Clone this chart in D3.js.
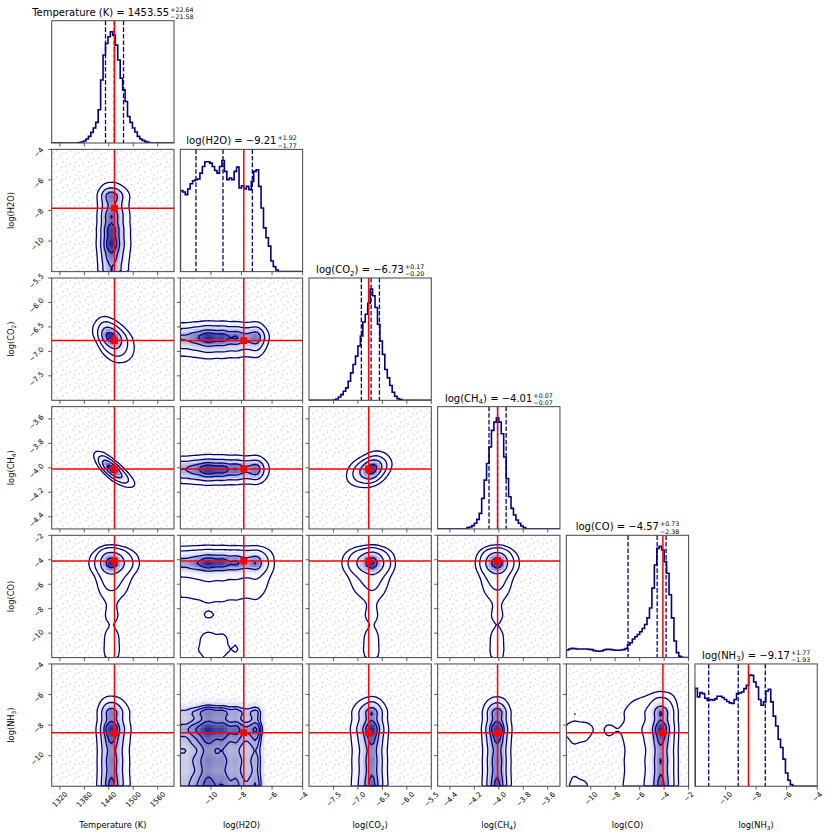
<!DOCTYPE html>
<meta charset="utf-8">
<html>
<script src="https://d3js.org/d3.v7.min.js"></script>
<style>
  body { margin: 0; background: #fff; }
  text { font-family: "DejaVu Sans", sans-serif; fill: #000; }
</style>
<div id="corner"></div>
<script>

// ---- data ----
var labels = ["Temperature (K)", "log(H2O)", "log(CO_2)", "log(CH_4)", "log(CO)", "log(NH_3)"];
var ranges = [[1300, 1600], [-12, -4], [-8, -5.5], [-4.5, -3.5], [-12, -2], [-12, -4]];
var tickValues = [
  [1320, 1380, 1440, 1500, 1560],
  [-10, -8, -6, -4],
  [-7.5, -7.0, -6.5, -6.0, -5.5],
  [-4.4, -4.2, -4.0, -3.8, -3.6],
  [-10, -8, -6, -4, -2],
  [-10, -8, -6, -4]
];
var medians  = [1453.55, -9.21, -6.73, -4.01, -4.57, -9.17];
var errPlus  = [22.64, 1.92, 0.17, 0.07, 0.73, 1.77];
var errMinus = [21.58, 1.77, 0.20, 0.07, 2.38, 1.93];
var truths   = [1454, -7.85, -6.78, -4.01, -4.1, -8.5];

// 50-bin marginal histograms (relative counts)
var histTemp = [0,0,0,0,0,0,0,0,0,0,0,1,3,6,12,20,32,45,62,100,190,265,300,320,335,325,295,250,195,160,125,80,62,45,33,20,12,8,4,2,0,0,0,0,0,0,0,0,0,0];
var histH2O  = [244,240,232,249,265,274,277,279,297,317,331,331,327,317,305,297,317,335,302,277,282,277,302,315,252,259,249,257,247,272,302,307,257,192,132,102,77,32,15,5,0,0,0,0,0,0,0,0,0,0];
var histCO2  = [0,0,0,0,0,0,0,0,0,0,1,4,10,17,27,37,57,82,107,132,162,192,234,257,290,332,312,277,227,177,137,92,67,44,24,12,5,2,0,0,0,0,0,0,0,0,0,0,0,0];
var histCH4  = [0,0,0,0,0,0,0,0,0,0,0,0,4,6,10,17,29,47,92,147,197,247,297,322,335,322,287,217,152,97,62,42,27,17,9,4,0,0,0,0,0,0,0,0,0,0,0,0,0,0];
var histCO   = [23,26,28,27,26,26,26,26,26,25,24,21,20,19,20,23,25,25,24,23,22,22,23,24,27,38,45,56,63,70,78,88,100,120,150,210,280,330,336,325,290,255,190,120,50,15,4,1,0,0];
var histNH3  = [296,270,283,280,266,259,262,260,264,272,272,268,262,256,252,250,262,280,282,285,295,305,336,335,315,300,262,245,255,288,293,255,212,182,142,117,82,40,18,5,0,0,0,0,0,0,0,0,0,0];
var hists = [histTemp, histH2O, histCO2, histCH4, histCO, histNH3];

// pairs that are visibly correlated in the 2D panels: [x param, y param, rho]
var correlations = [[0, 2, -0.45], [0, 3, -0.9], [2, 3, 0.35]];

// ---- layout ----
var width = 831, height = 838;
var nb = 50;
var L0 = 51.7, T0 = 20.7, pitch = 128.65, size = 122.3;
var navy = "#000080", red = "#ff0000";

var svg = d3.select("#corner").append("svg")
    .attr("width", width)
    .attr("height", height);
var defs = svg.append("defs");

// faint sample points texture
var pat = defs.append("pattern")
    .attr("id", "dots")
    .attr("patternUnits", "userSpaceOnUse")
    .attr("width", 13).attr("height", 13);
[[2, 3], [8, 1], [5, 8], [11, 6], [10, 11], [1, 10]].forEach(function(p) {
  pat.append("circle").attr("cx", p[0]).attr("cy", p[1]).attr("r", 0.9)
     .attr("fill", "#2a2aa0").attr("opacity", 0.16);
});

function xScale(k, col) {
  var x0 = L0 + col * pitch;
  return d3.scaleLinear().domain(ranges[k]).range([x0, x0 + size]);
}
function yScale(k, row) {
  var y0 = T0 + row * pitch;
  return d3.scaleLinear().domain(ranges[k]).range([y0 + size, y0]);
}

// text with "_x" subscripts
function addRich(sel, str, fs) {
  var parts = str.split("_");
  sel.append("tspan").text(parts[0]);
  parts.slice(1).forEach(function(p) {
    sel.append("tspan").attr("dy", fs * 0.25).attr("font-size", fs * 0.7).text(p[0]);
    sel.append("tspan").attr("dy", -fs * 0.25).text(p.slice(1));
  });
}

// normal cdf / inverse for the copula used on correlated pairs
function erf(x) {
  var s = x < 0 ? -1 : 1; x = Math.abs(x);
  var t = 1 / (1 + 0.3275911 * x);
  var y = 1 - (((((1.061405429 * t - 1.453152027) * t) + 1.421413741) * t - 0.284496736) * t + 0.254829592) * t * Math.exp(-x * x);
  return s * y;
}
function probit(p) {
  var lo = -8, hi = 8;
  for (var i = 0; i < 50; i++) {
    var m = (lo + hi) / 2;
    if (0.5 * (1 + erf(m / Math.SQRT2)) < p) lo = m; else hi = m;
  }
  return (lo + hi) / 2;
}
var zScores = hists.map(function(h) {
  var tot = d3.sum(h), c = 0;
  return h.map(function(v) {
    var p = (c + v / 2) / tot; c += v;
    return probit(Math.min(Math.max(p, 1e-6), 1 - 1e-6));
  });
});

function density(kx, ky) {
  var rho = 0;
  correlations.forEach(function(c) {
    if ((c[0] == kx && c[1] == ky) || (c[0] == ky && c[1] == kx)) rho = c[2];
  });
  var hx = hists[kx], hy = hists[ky], vals = new Float64Array(nb * nb);
  for (var j = 0; j < nb; j++) for (var i = 0; i < nb; i++) {
    var v = hx[i] * hy[j];
    if (rho && v > 0) {
      var a = zScores[kx][i], b = zScores[ky][j];
      v *= Math.exp(-(rho * rho * (a * a + b * b) - 2 * rho * a * b) / (2 * (1 - rho * rho))) / Math.sqrt(1 - rho * rho);
    }
    vals[j * nb + i] = v;
  }
  if (d3.blur2) d3.blur2({data: vals, width: nb, height: nb}, 0.62);
  return vals;
}

// corner-style levels: 0.5, 1, 1.5, 2 sigma
function levelsFor(vals) {
  var flat = Array.from(vals).sort(function(a, b) { return b - a; });
  var tot = d3.sum(flat);
  var sm = Array.from(d3.cumsum(flat), function(v) { return v / tot; });
  var V = [0.5, 1, 1.5, 2].map(function(s) {
    var f = 1 - Math.exp(-0.5 * s * s);
    var idx = d3.bisectRight(sm, f) - 1;
    return flat[Math.max(idx, 0)];
  });
  return V.sort(d3.ascending);
}

function clipFor(r, c) {
  var id = "clip" + r + "_" + c;
  defs.append("clipPath").attr("id", id).append("rect")
      .attr("x", L0 + c * pitch).attr("y", T0 + r * pitch)
      .attr("width", size).attr("height", size);
  return svg.append("g").attr("clip-path", "url(#" + id + ")");
}

function draw2d(r, c) {
  var xs = xScale(c, c), ys = yScale(r, r);
  var g = clipFor(r, c);
  g.append("rect")
      .attr("x", L0 + c * pitch).attr("y", T0 + r * pitch)
      .attr("width", size).attr("height", size)
      .attr("fill", "url(#dots)");

  var vals = density(c, r);
  var V = levelsFor(vals);
  var xlo = ranges[c][0], ylo = ranges[r][0];
  var xw = (ranges[c][1] - xlo) / nb, yw = (ranges[r][1] - ylo) / nb;
  var path = d3.geoPath(d3.geoTransform({
    point: function(x, y) { this.stream.point(xs(xlo + x * xw), ys(ylo + y * yw)); }
  }));
  var conts = d3.contours().size([nb, nb]).thresholds(V)(vals);

  // white base under the lowest contour
  g.append("path").attr("d", path(conts[0])).attr("fill", "#fff");

  // density shading (pcolor)
  var vmax = d3.max(vals), cells = [];
  for (var j = 0; j < nb; j++) for (var i = 0; i < nb; i++) {
    var d = Math.pow(vals[j * nb + i] / vmax, 1.5);
    if (d > 0.015) cells.push({i: i, j: j, d: d});
  }
  g.selectAll("rect.cell").data(cells).join("rect")
      .attr("class", "cell")
      .attr("shape-rendering", "crispEdges")
      .attr("x", function(d) { return Math.round(xs(xlo + d.i * xw)); })
      .attr("y", function(d) { return Math.round(ys(ylo + (d.j + 1) * yw)); })
      .attr("width", function(d) { return Math.round(xs(xlo + (d.i + 1) * xw)) - Math.round(xs(xlo + d.i * xw)); })
      .attr("height", function(d) { return Math.round(ys(ylo + d.j * yw)) - Math.round(ys(ylo + (d.j + 1) * yw)); })
      .attr("fill", function(d) { var t = 1 - d.d; return d3.rgb(255 * t, 255 * t, 128 + 127 * t); })
      .attr("fill-opacity", function(d) { return 0.85 * d.d; });

  g.selectAll("path.contour").data(conts).join("path")
      .attr("class", "contour")
      .attr("d", path)
      .attr("fill", "none")
      .attr("stroke", navy)
      .attr("stroke-width", 1.3)
      .attr("stroke-linejoin", "round");

  // truth lines and marker
  var tx = xs(truths[c]), ty = ys(truths[r]);
  g.append("line").attr("x1", tx).attr("x2", tx).attr("y1", T0 + r * pitch).attr("y2", T0 + r * pitch + size)
      .attr("stroke", red).attr("stroke-width", 1.5);
  g.append("line").attr("y1", ty).attr("y2", ty).attr("x1", L0 + c * pitch).attr("x2", L0 + c * pitch + size)
      .attr("stroke", red).attr("stroke-width", 1.5);
  g.append("rect").attr("x", tx - 3.4).attr("y", ty - 3.4).attr("width", 6.8).attr("height", 6.8)
      .attr("fill", red);
}

function drawHist(k) {
  var h = hists[k];
  var xs = xScale(k, k);
  var y0 = T0 + k * pitch;
  var ys = d3.scaleLinear().domain([0, 1.1 * d3.max(h)]).range([y0 + size, y0]);
  var lo = ranges[k][0], hi = ranges[k][1], w = (hi - lo) / nb;
  var g = clipFor(k, k);

  var pts = [[lo, 0]].concat(h.map(function(v, i) { return [lo + i * w, v]; }))
      .concat([[hi, h[nb - 1]], [hi, 0]]);
  var line = d3.line().x(function(d) { return xs(d[0]); }).y(function(d) { return ys(d[1]); })
      .curve(d3.curveStepAfter);
  g.append("path").attr("d", line(pts))
      .attr("fill", "none").attr("stroke", navy).attr("stroke-width", 1.6);

  var q = [medians[k] - errMinus[k], medians[k], medians[k] + errPlus[k]];
  g.selectAll("line.q").data(q).join("line")
      .attr("class", "q")
      .attr("x1", function(d) { return xs(d); }).attr("x2", function(d) { return xs(d); })
      .attr("y1", y0).attr("y2", y0 + size)
      .attr("stroke", navy).attr("stroke-width", 1.3).attr("stroke-dasharray", "4.6,2");
  g.append("line").attr("x1", xs(truths[k])).attr("x2", xs(truths[k]))
      .attr("y1", y0).attr("y2", y0 + size)
      .attr("stroke", red).attr("stroke-width", 1.5);

  // title
  var cx = L0 + k * pitch + size / 2;
  var tg = svg.append("g");
  var t = tg.append("text").attr("font-size", 10);
  addRich(t, labels[k] + " = " + d3.format(".2f")(medians[k]), 10);
  var tw = t.node().getComputedTextLength();
  var sup = tg.append("text").attr("x", tw + 1).attr("y", -4).attr("font-size", 6.3)
      .text("+" + errPlus[k].toFixed(2));
  var sub = tg.append("text").attr("x", tw + 1).attr("y", 3.2).attr("font-size", 6.3)
      .text("\u2212" + errMinus[k].toFixed(2));
  var total = tw + 1 + Math.max(sup.node().getComputedTextLength(), sub.node().getComputedTextLength());
  tg.attr("transform", "translate(" + (cx - total / 2) + "," + (y0 - 5) + ")");
}

function fmtFor(k) {
  var dec = tickValues[k].every(function(v) { return Math.round(v) === v; }) ? 0 : 1;
  return d3.format("." + dec + "f");
}

function drawAxes(r, c) {
  var x0 = L0 + c * pitch, y0 = T0 + r * pitch;
  var xs = xScale(c, c), bottom = y0 + size;
  var g = svg.append("g");
  var tfs = 7.2;

  // bottom ticks
  var fx = fmtFor(c);
  tickValues[c].forEach(function(v) {
    var x = xs(v);
    g.append("line").attr("x1", x).attr("x2", x).attr("y1", bottom).attr("y2", bottom + 3.5)
        .attr("stroke", "#333").attr("stroke-width", 0.8);
    if (r == 5) {
      var t = g.append("text").attr("font-size", tfs).attr("text-anchor", "middle")
          .attr("dominant-baseline", "central").text(fx(v));
      var w = t.node().getComputedTextLength();
      var half = (w + 0.73 * tfs) * 0.707 / 2;
      t.attr("transform", "translate(" + x + "," + (bottom + 5 + half) + ") rotate(-45)");
    }
  });
  if (r == 5) {
    var xl = g.append("text").attr("font-size", 8.3).attr("text-anchor", "middle")
        .attr("x", x0 + size / 2).attr("y", 828);
    addRich(xl, labels[c], 8.3);
  }

  // left ticks
  if (c < r) {
    var ys = yScale(r, r), fy = fmtFor(r);
    tickValues[r].forEach(function(v) {
      var y = ys(v);
      g.append("line").attr("x1", x0 - 3.5).attr("x2", x0).attr("y1", y).attr("y2", y)
          .attr("stroke", "#333").attr("stroke-width", 0.8);
      if (c == 0) {
        var t = g.append("text").attr("font-size", tfs).attr("text-anchor", "middle")
            .attr("dominant-baseline", "central").text(fy(v));
        var w = t.node().getComputedTextLength();
        var half = (w + 0.73 * tfs) * 0.707 / 2;
        t.attr("transform", "translate(" + (x0 - 7.5 - half) + "," + (y + 3) + ") rotate(-45)");
      }
    });
    if (c == 0) {
      var yl = g.append("text").attr("font-size", 8.3).attr("text-anchor", "middle")
          .attr("transform", "translate(13.5," + (y0 + size / 2) + ") rotate(-90)");
      addRich(yl, labels[r], 8.3);
    }
  }

  // frame
  g.append("rect").attr("x", x0).attr("y", y0).attr("width", size).attr("height", size)
      .attr("fill", "none").attr("stroke", "#444").attr("stroke-width", 1);
}

for (var r = 0; r < 6; r++) {
  for (var c = 0; c <= r; c++) {
    if (r == c) drawHist(r); else draw2d(r, c);
    drawAxes(r, c);
  }
}
</script>
</html>
